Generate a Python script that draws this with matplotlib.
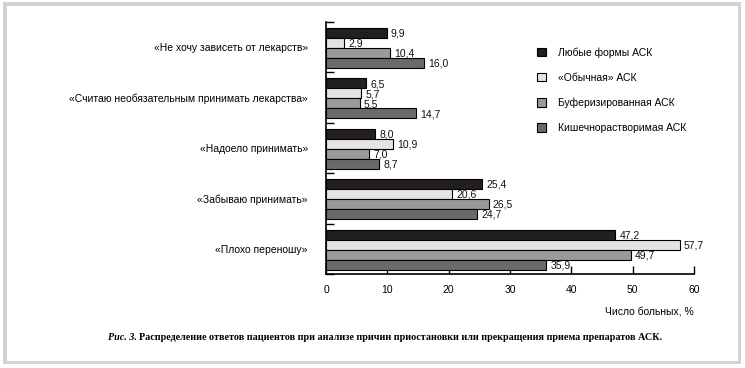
import matplotlib
matplotlib.use("Agg")
import matplotlib.pyplot as plt
from matplotlib.patches import Rectangle, Patch
import numpy as np

categories = ["«Не хочу зависеть от лекарств»",
              "«Считаю необязательным принимать лекарства»",
              "«Надоело принимать»",
              "«Забываю принимать»",
              "«Плохо переношу»"]
series_names = ["Любые формы АСК", "«Обычная» АСК",
                "Буферизированная АСК", "Кишечнорастворимая АСК"]
any_form = [9.9, 6.5, 8.0, 25.4, 47.2]
regular = [2.9, 5.7, 10.9, 20.6, 57.7]
buffered = [10.4, 5.5, 7.0, 26.5, 49.7]
enteric = [16.0, 14.7, 8.7, 24.7, 35.9]
xticks = [0, 10, 20, 30, 40, 50, 60]
xlabel = "Число больных, %"
caption_it = "Рис. 3. "
caption = "Распределение ответов пациентов при анализе причин приостановки или прекращения приема препаратов АСК."

colors = ["#231f20", "#e4e4e4", "#9a9a9a", "#6a6a6a"]
series = [any_form, regular, buffered, enteric]

W, H = 745, 368
fig = plt.figure(figsize=(W / 100, H / 100), dpi=100)
fig.patch.set_facecolor("white")

def px(x0, y0, x1, y1):
    return (x0 / W, 1 - y1 / H, (x1 - x0) / W, (y1 - y0) / H)

r = px(3, 2, 741, 364)
fig.patches.append(Rectangle((r[0], r[1]), r[2], r[3], transform=fig.transFigure,
                             facecolor="#d3d3d3", edgecolor="none", zorder=-10))
r = px(7, 6, 738, 361)
fig.patches.append(Rectangle((r[0], r[1]), r[2], r[3], transform=fig.transFigure,
                             facecolor="white", edgecolor="none", zorder=-9))

ax = fig.add_axes(px(326, 22, 694, 274))
ax.set_facecolor("none")
font = "Liberation Sans"
fs = 7.5

n = len(categories)
idx = np.arange(n)
h = 0.198
offsets = [-0.282, -0.084, 0.114, 0.312]
for s, (vals, col, name) in enumerate(zip(series, colors, series_names)):
    ypos = idx + offsets[s]
    ax.barh(ypos, vals, height=h, color=col, edgecolor="black", linewidth=0.8,
            label=name, zorder=3)
    for y, v in zip(ypos, vals):
        ax.annotate(f"{v:.1f}".replace(".", ","), xy=(v, y), xytext=(3, -0.5),
                    textcoords="offset points", ha="left", va="center",
                    fontsize=fs, family=font, color="#111111")

ax.set_xlim(0, 60)
ax.set_ylim(n - 0.5, -0.5)
ax.set_xticks(xticks)
ax.set_xticklabels([str(t) for t in xticks], fontsize=fs, family=font)
ax.tick_params(axis="x", direction="in", length=6, width=1, pad=8)
ax.set_yticks(np.arange(-0.5, n, 1.0))
ax.set_yticklabels([])
ax.tick_params(axis="y", which="major", direction="in", length=6, width=1)
ax.set_yticks(idx, minor=True)
ax.set_yticklabels(categories, minor=True, fontsize=fs, family=font)
ax.tick_params(axis="y", which="minor", length=0, pad=13)
for sp in ["top", "right"]:
    ax.spines[sp].set_visible(False)
ax.spines["left"].set_linewidth(1.2)
ax.spines["bottom"].set_linewidth(1.2)

fig.text(694 / W, 1 - 312 / H, xlabel, ha="right", va="center",
         fontsize=fs, family=font)

handles = [Patch(facecolor=c, edgecolor="black", linewidth=0.8) for c in colors]
fig.legend(handles, series_names, loc="upper left",
           bbox_to_anchor=(537 / W, 1 - 47 / H), frameon=False,
           prop={"family": font, "size": fs}, handlelength=0.9, handleheight=0.9,
           handletextpad=1.1, labelspacing=1.45, borderpad=0, borderaxespad=0)

t1 = fig.text(108 / W, 1 - 338 / H, caption_it, ha="left", va="center",
              fontsize=7.3, family="Liberation Serif", style="italic", weight="bold")
ax.annotate(caption, xy=(1, 0.5), xycoords=t1, ha="left", va="center",
            fontsize=7.3, family="Liberation Serif", weight="bold",
            annotation_clip=False)

fig.savefig("out.png", dpi=100)
